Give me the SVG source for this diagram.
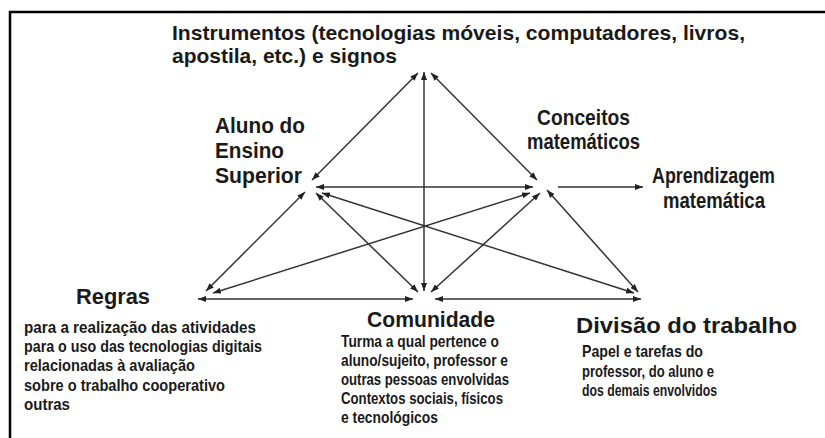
<svg xmlns="http://www.w3.org/2000/svg" width="825" height="438" viewBox="0 0 825 438">
<style>
.t{font-family:"Liberation Sans",Arial,sans-serif;font-weight:bold;font-size:22px;fill:#1a1a1a}
.t.s{font-size:20.5px}
.d{font-family:"Liberation Sans",Arial,sans-serif;font-weight:bold;font-size:16.5px;fill:#1a1a1a}
.c line{stroke:#333;stroke-width:1.5;marker-start:url(#ah);marker-end:url(#ah)}
.c line.one{marker-start:none}
</style>
<defs>
<marker id="ah" viewBox="0 0 8 6" refX="8" refY="3" markerWidth="8" markerHeight="6" markerUnits="userSpaceOnUse" orient="auto-start-reverse">
<path d="M0,0 L8,3 L0,6 z" fill="#222"/>
</marker>
</defs>
<rect width="825" height="438" fill="#fff"/>
<path d="M10,438 V12 H825" fill="none" stroke="#000" stroke-width="2.5"/>
<g class="c" id="connectors">
<line x1="312" y1="180" x2="418" y2="73"/>
<line x1="537" y1="180" x2="431" y2="73"/>
<line x1="424" y1="291" x2="424" y2="72"/>
<line x1="316" y1="187" x2="533" y2="187"/>
<line x1="305" y1="192" x2="206" y2="291"/>
<line x1="316" y1="193" x2="418" y2="292"/>
<line x1="322" y1="193" x2="634" y2="293"/>
<line x1="530" y1="193" x2="213" y2="293"/>
<line x1="540" y1="193" x2="431" y2="292"/>
<line x1="547" y1="190" x2="638" y2="292"/>
<line x1="198" y1="299" x2="413" y2="299"/>
<line x1="435" y1="299" x2="641" y2="299"/>
<line class="one" x1="558" y1="187" x2="643" y2="187"/>
</g>
<g id="instrumentos">
<text class="t s" x="172" y="40" textLength="573" lengthAdjust="spacingAndGlyphs">Instrumentos (tecnologias móveis, computadores, livros,</text>
<text class="t s" x="172" y="63" textLength="225" lengthAdjust="spacingAndGlyphs">apostila, etc.) e signos</text>
</g>
<g id="aluno">
<text class="t" x="215" y="133" textLength="90" lengthAdjust="spacingAndGlyphs">Aluno do</text>
<text class="t" x="215" y="158" textLength="69" lengthAdjust="spacingAndGlyphs">Ensino</text>
<text class="t" x="215" y="183" textLength="87" lengthAdjust="spacingAndGlyphs">Superior</text>
</g>
<g id="conceitos">
<text class="t" x="537" y="125" textLength="93" lengthAdjust="spacingAndGlyphs">Conceitos</text>
<text class="t" x="527" y="149" textLength="113" lengthAdjust="spacingAndGlyphs">matemáticos</text>
</g>
<g id="aprendizagem">
<text class="t" x="652" y="183" textLength="123" lengthAdjust="spacingAndGlyphs">Aprendizagem</text>
<text class="t" x="663" y="208" textLength="102" lengthAdjust="spacingAndGlyphs">matemática</text>
</g>
<g id="regras">
<text class="t" x="76" y="304" textLength="74" lengthAdjust="spacingAndGlyphs">Regras</text>
<text class="d" x="24" y="333" textLength="232" lengthAdjust="spacingAndGlyphs">para a realização das atividades</text>
<text class="d" x="24" y="352" textLength="238" lengthAdjust="spacingAndGlyphs">para o uso das tecnologias digitais</text>
<text class="d" x="24" y="371" textLength="171" lengthAdjust="spacingAndGlyphs">relacionadas à avaliação</text>
<text class="d" x="24" y="391" textLength="201" lengthAdjust="spacingAndGlyphs">sobre o trabalho cooperativo</text>
<text class="d" x="24" y="410" textLength="46" lengthAdjust="spacingAndGlyphs">outras</text>
</g>
<g id="comunidade">
<text class="t" x="367" y="327" textLength="128" lengthAdjust="spacingAndGlyphs">Comunidade</text>
<text class="d" x="341" y="347" textLength="158" lengthAdjust="spacingAndGlyphs">Turma a qual pertence o</text>
<text class="d" x="341" y="366" textLength="167" lengthAdjust="spacingAndGlyphs">aluno/sujeito, professor e</text>
<text class="d" x="341" y="385" textLength="168" lengthAdjust="spacingAndGlyphs">outras pessoas envolvidas</text>
<text class="d" x="341" y="404" textLength="162" lengthAdjust="spacingAndGlyphs">Contextos sociais, físicos</text>
<text class="d" x="341" y="423" textLength="97" lengthAdjust="spacingAndGlyphs">e tecnológicos</text>
</g>
<g id="divisao">
<text class="t" x="576" y="333" textLength="221" lengthAdjust="spacingAndGlyphs">Divisão do trabalho</text>
<text class="d" x="582" y="357" textLength="121" lengthAdjust="spacingAndGlyphs">Papel e tarefas do</text>
<text class="d" x="582" y="377" textLength="132" lengthAdjust="spacingAndGlyphs">professor, do aluno e</text>
<text class="d" x="582" y="396" textLength="135" lengthAdjust="spacingAndGlyphs">dos demais envolvidos</text>
</g>
</svg>
